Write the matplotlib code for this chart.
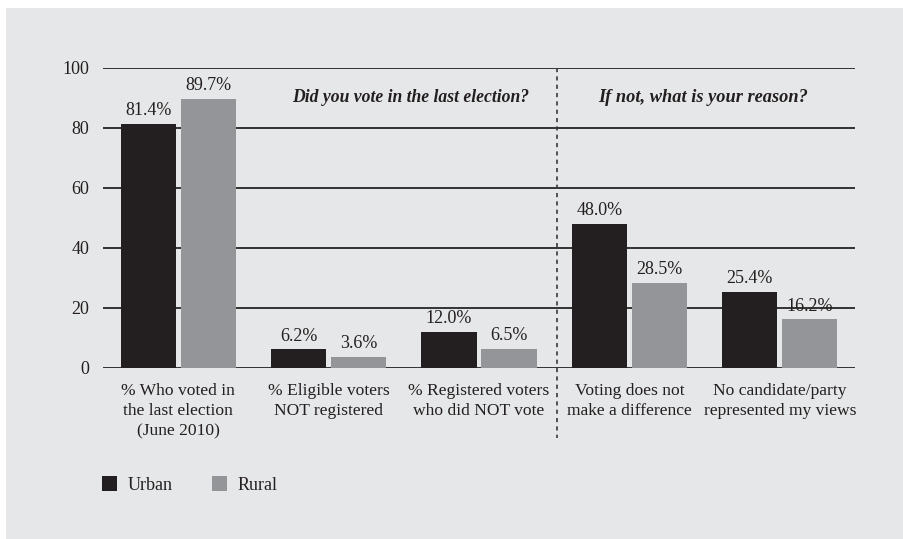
import matplotlib
matplotlib.use("Agg")
import matplotlib.pyplot as plt
from matplotlib.patches import Rectangle
import numpy as np

categories = [
    "% Who voted in\nthe last election\n(June 2010)",
    "% Eligible voters\nNOT registered",
    "% Registered voters\nwho did NOT vote",
    "Voting does not\nmake a difference",
    "No candidate/party\nrepresented my views",
]
urban = [81.4, 6.2, 12.0, 48.0, 25.4]
rural = [89.7, 3.6, 6.5, 28.5, 16.2]
yticks = [0, 20, 40, 60, 80, 100]
series_names = ["Urban", "Rural"]
section_titles = ["Did you vote in the last election?", "If not, what is your reason?"]

BG = "#e6e7e8"
C_URBAN = "#231f20"
C_RURAL = "#939598"
TXT = "#231f20"
FONT = "Liberation Serif"

plt.rcParams["font.family"] = [FONT, "DejaVu Serif"]

fig = plt.figure(figsize=(9.04, 5.39), dpi=100)
fig.patch.set_facecolor("white")
bgrect = Rectangle((6 / 904, -0.01), 1.01, 1.01 - 8 / 539, transform=fig.transFigure,
                   facecolor=BG, edgecolor="none", zorder=-10)
fig.patches.append(bgrect)

ax = fig.add_axes([103 / 904, 1 - 368 / 539, (855 - 103) / 904, 300 / 539])
ax.set_zorder(5)
ax.set_facecolor("none")

x = np.arange(len(categories))
w = 0.367
off = 0.2
ax.bar(x - off, urban, width=w, color=C_URBAN, zorder=3, label=series_names[0])
ax.bar(x + off, rural, width=w, color=C_RURAL, zorder=3, label=series_names[1])

for xi, v in zip(x - off, urban):
    ax.text(xi, v + 1.6, f"{v:.1f}%", ha="center", va="bottom", fontsize=13, color=TXT, zorder=4)
for xi, v in zip(x + off, rural):
    ax.text(xi, v + 1.6, f"{v:.1f}%", ha="center", va="bottom", fontsize=13, color=TXT, zorder=4)

for t in yticks:
    ax.axhline(t, color="#333333", lw=1.4, zorder=1)

ax.set_xlim(-0.5, 4.5)
ax.set_ylim(0, 100)
ax.set_yticks(yticks)
ax.set_yticklabels([str(t) for t in yticks], fontsize=13, color=TXT)
ax.set_xticks(x)
ax.set_xticklabels(categories, fontsize=12.6, color=TXT, linespacing=1.33)
ax.tick_params(axis="both", length=0)
ax.tick_params(axis="y", pad=10)
ax.tick_params(axis="x", pad=11)
for s in ax.spines.values():
    s.set_visible(False)

ax.plot([2.52, 2.52], [100, -23.3], color="#3a3a3a", lw=1.2, linestyle=(0, (2.5, 2.5)),
        clip_on=False, zorder=2)

ax.text(1.547, 90, section_titles[0], ha="center", va="center", fontsize=12.7,
        fontweight="bold", fontstyle="italic", color=TXT)
ax.text(3.487, 90, section_titles[1], ha="center", va="center", fontsize=13.2,
        fontweight="bold", fontstyle="italic", color=TXT)

leg = ax.legend(loc="center left", bbox_to_anchor=(-0.0013, -0.39), ncol=2, frameon=False,
                fontsize=13, handlelength=0.85, handleheight=0.85, columnspacing=2.2,
                handletextpad=0.55, borderaxespad=0, borderpad=0)
for t in leg.get_texts():
    t.set_color(TXT)

fig.savefig("out.png", dpi=100, facecolor=fig.get_facecolor())
